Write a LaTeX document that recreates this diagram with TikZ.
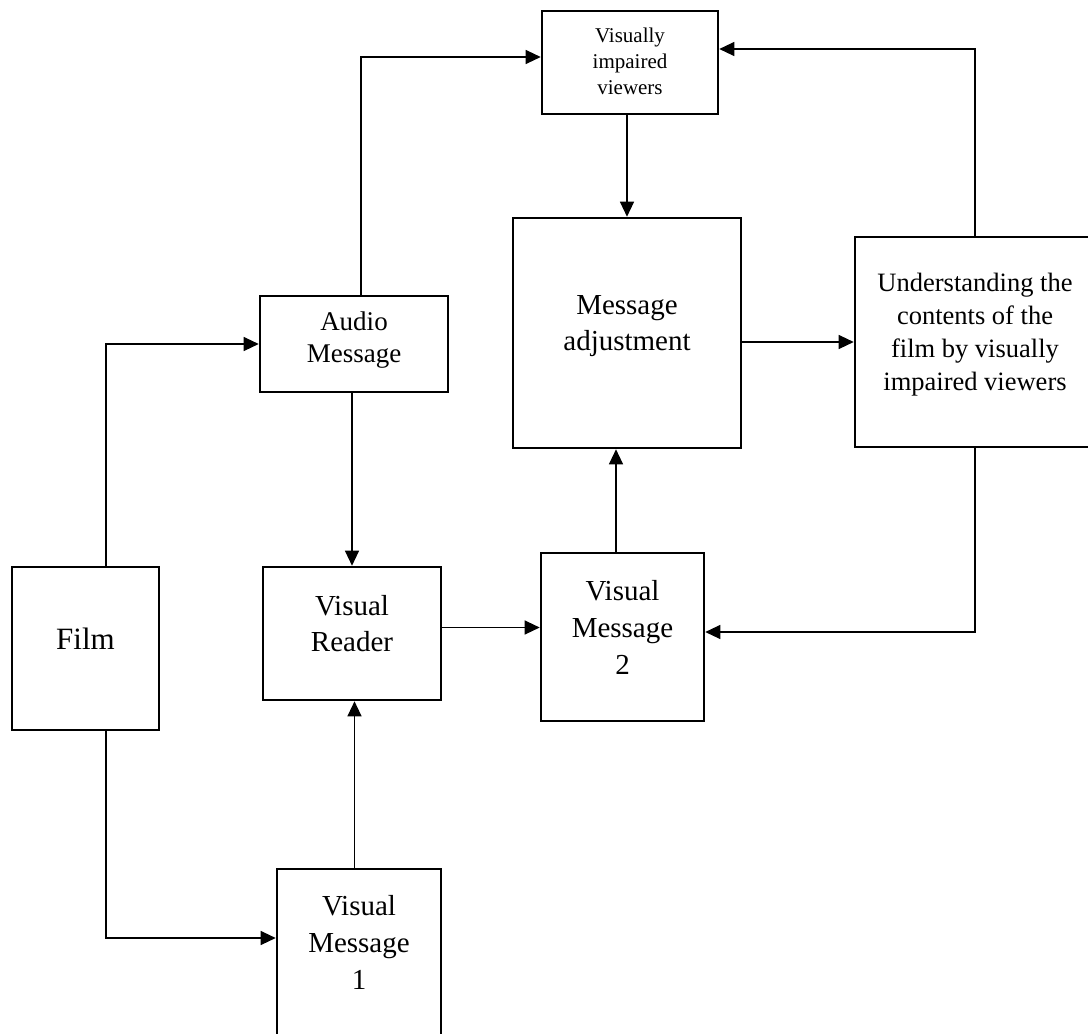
\documentclass[tikz,border=0pt]{standalone}
\usepackage{fontspec}
\setmainfont{Liberation Serif}
\usetikzlibrary{arrows.meta,calc}
\begin{document}
\begin{tikzpicture}[x=1pt,y=-1pt,
  box/.style={draw, line width=2.6pt, align=center, inner sep=0pt, text depth=20pt},
  conn/.style={line width=1.2pt},
  arr/.style={conn, -{Triangle[length=15pt,width=14pt]}}]
\useasboundingbox (0,0) rectangle (1088,1034);
\clip (0,0) rectangle (1088,1034);
% boxes
\node[box, minimum width=147pt, minimum height=163pt, font=\fontsize{31}{38}\selectfont] (film) at (85.5,648.5) {Film};
\node[box, text depth=14pt, minimum width=188pt, minimum height=96pt, font=\fontsize{27}{32}\selectfont] (audio) at (354,344) {Audio\\Message};
\node[box, text depth=2pt, minimum width=176pt, minimum height=103pt, font=\fontsize{21}{26}\selectfont] (viv) at (630,62.5) {Visually\\impaired\\viewers};
\node[box, minimum width=228pt, minimum height=230pt, font=\fontsize{29}{36}\selectfont] (ma) at (627,333) {Message\\adjustment};
\node[box, minimum width=240pt, minimum height=210pt, font=\fontsize{26.5}{33}\selectfont] (und) at (975,342) {Understanding the\\contents of the\\film by visually\\impaired viewers};
\node[box, minimum width=178pt, minimum height=133pt, font=\fontsize{29}{36}\selectfont] (vr) at (352,633.5) {Visual\\Reader};
\node[box, minimum width=163pt, minimum height=168pt, font=\fontsize{29}{37}\selectfont] (vm2) at (622.5,637) {Visual\\Message\\2};
\node[box, text depth=26pt, minimum width=164pt, minimum height=172pt, font=\fontsize{29}{37}\selectfont] (vm1) at (359,955) {Visual\\Message\\1};
% helper coordinates
\coordinate (fn) at ($(film.north)+(20.5,0)$);
\coordinate (fs) at ($(film.south)+(20.5,0)$);
\coordinate (an) at ($(audio.north)+(7,0)$);
\coordinate (vw) at ($(viv.west)+(0,-5.5)$);
\coordinate (ve) at ($(viv.east)+(0,-13.5)$);
\coordinate (c1) at ($(vr.east)+(0,-6)$);
\coordinate (c2) at ($(vm2.north)+(-6.5,0)$);
\coordinate (c3) at ($(vm1.north)+(-4.5,0)$);
\coordinate (m2e) at ($(vm2.east)+(0,-5)$);
\coordinate (m1w) at ($(vm1.west)+(0,-17)$);
% connectors
\draw[arr] (fn) |- (audio.west);
\draw[arr] (an) |- (vw);
\draw[arr] (viv.south -| ma.north) -- (ma.north);
\draw[arr] (und.north) |- (ve);
\draw[arr] (ma.east |- und.west) -- (und.west);
\draw[arr] (audio.south -| vr.north) -- (vr.north);
\draw[arr] (c1) -- (c1 -| vm2.west);
\draw[arr] (c2) -- (c2 |- ma.south);
\draw[arr] (und.south) |- (m2e);
\draw[arr] (c3) -- (c3 |- vr.south);
\draw[arr] (fs) |- (m1w);
\end{tikzpicture}
\end{document}
